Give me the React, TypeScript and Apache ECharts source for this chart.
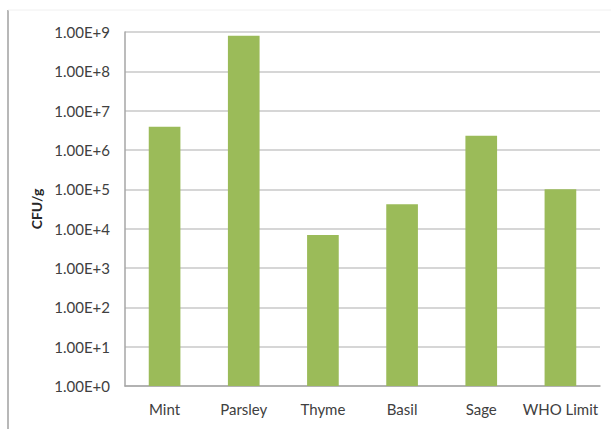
import React, { useEffect, useRef } from "react";
import * as echarts from "echarts";

const categories = ["Mint", "Parsley", "Thyme", "Basil", "Sage", "WHO Limit"];
const cfuValues = [3.9e6, 8e8, 6.9e3, 4.2e4, 2.3e6, 1e5];
const yAxisName = "CFU/g";

export default function App() {
  const ref = useRef<HTMLDivElement>(null);
  useEffect(() => {
    document.body.style.margin = "0";
    const chart = echarts.init(ref.current!, null, { renderer: "svg" });
    chart.setOption({
      animation: false,
      backgroundColor: "#ffffff",
      graphic: [
        { type: "line", shape: { x1: 8, y1: 10, x2: 8, y2: 429 }, style: { stroke: "#b8b8b8", lineWidth: 2 } },
        { type: "line", shape: { x1: 8, y1: 10, x2: 611, y2: 10 }, style: { stroke: "#f0f0f0", lineWidth: 1 } },
      ],
      grid: { left: 125, right: 11, top: 32, bottom: 43 },
      xAxis: {
        type: "category",
        data: categories,
        axisLine: { lineStyle: { color: "#a6a6a6", width: 1.5 } },
        axisTick: { show: false },
        axisLabel: { color: "#404040", fontFamily: "Lato", fontSize: 15, margin: 15, interval: 0, hideOverlap: false },
      },
      yAxis: {
        type: "log",
        logBase: 10,
        min: 1,
        max: 1e9,
        name: yAxisName,
        nameLocation: "middle",
        nameGap: 80,
        nameTextStyle: { color: "#262626", fontFamily: "Lato", fontWeight: "bold", fontSize: 14 },
        axisLine: { show: true, lineStyle: { color: "#a6a6a6", width: 1.5 } },
        axisTick: { show: false },
        splitLine: { lineStyle: { color: "#c8c8c8", width: 1.5 } },
        axisLabel: {
          color: "#404040",
          fontFamily: "Lato",
          fontSize: 15,
          margin: 15,
          formatter: (v: number) => "1.00E+" + Math.round(Math.log10(v)),
        },
      },
      series: [
        {
          type: "bar",
          data: cfuValues,
          barWidth: "40%",
          itemStyle: { color: "#9bbb59" },
        },
      ],
    });
    return () => chart.dispose();
  }, []);
  return <div ref={ref} style={{ width: 611, height: 429 }} />;
}
